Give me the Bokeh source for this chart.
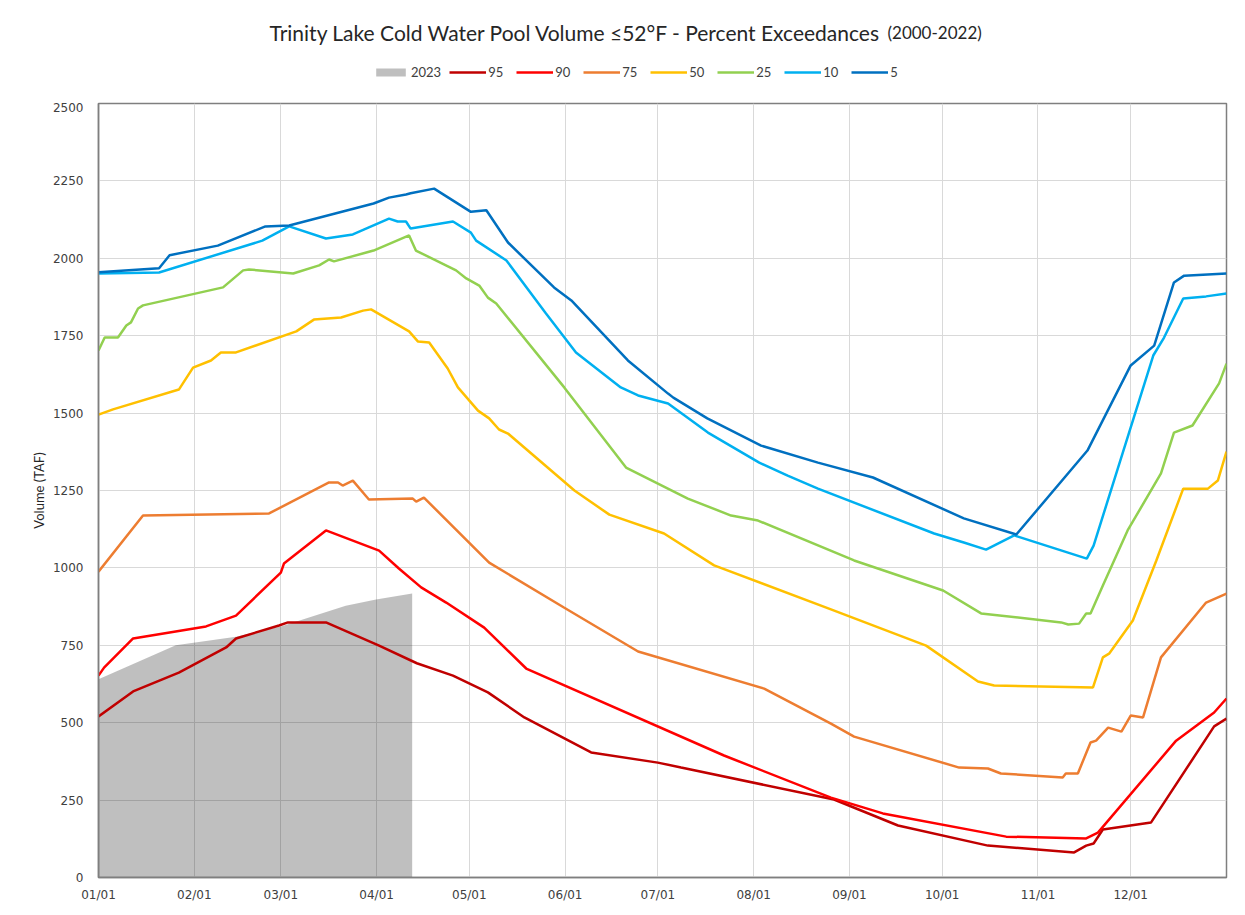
from bokeh.plotting import figure
from bokeh.models import FixedTicker, Legend, LegendItem, Label
from bokeh.layouts import column
from bokeh.embed import file_html
from bokeh.resources import INLINE

# ---- data (x = day of year, 0 = Jan 1) ----
month_ticks = [0, 31, 59, 90, 120, 151, 181, 212, 243, 273, 304, 334]
month_labels = ["01/01", "02/01", "03/01", "04/01", "05/01", "06/01",
                "07/01", "08/01", "09/01", "10/01", "11/01", "12/01"]
y_ticks = [0, 250, 500, 750, 1000, 1250, 1500, 1750, 2000, 2250, 2500]

title_main = "Trinity Lake Cold Water Pool Volume \u226452\u00b0F - Percent Exceedances"
title_sub = "(2000-2022)"

y2023_x = [0, 25, 44.5, 59, 80, 89.8, 101.5]
y2023_v = [640, 750, 778, 811, 878, 898, 917]

p95_x = [0, 11.2, 26, 41.3, 44.5, 58.4, 61.3, 73.6, 90.8, 103, 114.7, 126, 137.8, 159.4,
         181, 188.5, 238, 258.7, 287.8, 315.7, 319.6, 322, 325, 340.6, 361, 365]
p95_v = [520, 601, 662, 743, 772, 814, 824, 824, 749, 692, 652, 598, 517, 404,
         371, 355, 252, 168, 103, 81, 103, 110, 155, 178, 488, 513]

p90_x = [0, 1.8, 11.2, 34.8, 44.5, 59, 60, 73.6, 90.8, 97.2, 104.4, 112.5, 124.8, 138.4,
         202.4, 237, 253.8, 293.7, 319.6, 323.4, 348.7, 361, 365]
p90_v = [652, 678, 772, 811, 846, 985, 1014, 1121, 1056, 998, 937, 888, 807, 675,
         394, 258, 207, 132, 126, 145, 442, 533, 578]

p75_x = [0, 14.4, 55.2, 74.6, 77.5, 79, 82.3, 87.5, 101.7, 102.8, 105.3, 126.4, 150.6, 174.6,
         215.4, 237, 244.5, 278.5, 287.8, 292, 312, 313, 316.9, 321, 322.8, 326.7, 331, 334,
         338, 343.8, 358.4, 365]
p75_v = [988, 1169, 1176, 1276, 1276, 1266, 1282, 1221, 1224, 1214, 1227, 1017, 872, 730,
         610, 497, 455, 355, 352, 336, 323, 336, 336, 436, 442, 484, 471, 523,
         517, 711, 888, 917]

p50_x = [0, 4.7, 26, 30.6, 36.4, 39.6, 44.5, 64, 69.7, 78.5, 85.6, 88.2, 100.5, 103.4, 107,
         113, 116.3, 122.8, 126.4, 129.6, 132.5, 154, 165.3, 183, 199.2, 237, 267.8, 284.6,
         289.8, 321.8, 325, 327, 334.7, 342.3, 351, 359, 362.2, 365]
p50_v = [1495, 1512, 1576, 1647, 1670, 1696, 1696, 1764, 1802, 1809, 1831, 1835, 1764, 1731, 1728,
         1644, 1583, 1508, 1483, 1447, 1434, 1250, 1172, 1111, 1008, 866, 749, 633,
         620, 614, 711, 723, 830, 1024, 1256, 1256, 1282, 1376]

p25_x = [0, 2, 6.3, 9, 10.5, 12.8, 14.4, 40.3, 46.8, 48.7, 63, 71.4, 74.6, 76.2, 89, 100.5,
         102.7, 115.7, 119, 123.2, 126, 128.7, 150.7, 170.7, 190.7, 204.7, 213.4, 244.5, 273.3,
         285.6, 311.5, 313.8, 317.3, 319.6, 321, 325, 333, 343.8, 348, 354, 362.6, 365]
p25_v = [1702, 1744, 1744, 1783, 1793, 1838, 1848, 1906, 1961, 1964, 1951, 1977, 1996, 1990, 2025, 2074,
         2025, 1961, 1935, 1912, 1873, 1854, 1583, 1324, 1224, 1169, 1153, 1024, 927,
         853, 824, 817, 820, 853, 853, 943, 1121, 1305, 1437, 1460, 1596, 1660]

p10_x = [0, 19.6, 53, 61.7, 73.6, 82.3, 94, 96.8, 99.5, 101, 114.7, 120.5, 122.2, 132, 144.8,
         154.5, 169, 174.6, 184.3, 197.2, 213.8, 223, 232.8, 270.4, 280, 287.2, 296.3, 319.8,
         322, 341.3, 344.8, 351, 358.4, 365]
p10_v = [1951, 1954, 2057, 2103, 2064, 2077, 2128, 2119, 2119, 2096, 2119, 2083, 2057, 1993, 1822,
         1696, 1583, 1557, 1531, 1437, 1340, 1298, 1256, 1111, 1082, 1059, 1105, 1030,
         1072, 1686, 1744, 1870, 1877, 1886]

p5_x = [0, 19.6, 23, 38.6, 54, 61.7, 89, 94, 99.5, 101, 108.6, 120.5, 125.5, 132.5, 147.4, 153,
        171.3, 184.3, 186, 197, 214.4, 232.8, 250.6, 280, 297, 320, 334, 341.6, 348, 351.3, 365]
p5_v = [1955, 1968, 2010, 2041, 2103, 2106, 2177, 2196, 2206, 2210, 2225, 2150, 2155, 2051, 1906, 1864,
        1670, 1563, 1550, 1483, 1395, 1340, 1292, 1160, 1108, 1379, 1654, 1718, 1922, 1944, 1951]

series = [
    ("95", p95_x, p95_v, "#C00000"),
    ("90", p90_x, p90_v, "#FF0000"),
    ("75", p75_x, p75_v, "#ED7D31"),
    ("50", p50_x, p50_v, "#FFC000"),
    ("25", p25_x, p25_v, "#92D050"),
    ("10", p10_x, p10_v, "#00B0F0"),
    ("5", p5_x, p5_v, "#0070C0"),
]

FONT = "Lato"
TICKFONT = "DejaVu Sans"
W = 1243
HEAD_H = 102
LEFT, RIGHT = 98, 17            # borders around the plotting frame
FX0, FX1 = LEFT, W - RIGHT      # header coordinates = page pixels

# ---------- header: title + legend ----------
head = figure(width=W, height=HEAD_H, x_range=(FX0, FX1), y_range=(0, HEAD_H),
              output_backend="svg", toolbar_location=None,
              min_border_left=LEFT, min_border_right=RIGHT,
              min_border_top=0, min_border_bottom=0)
head.axis.visible = False
head.grid.visible = False
head.outline_line_color = None
head.background_fill_color = "white"
head.border_fill_color = "white"

head.add_layout(Label(x=881, y=HEAD_H - 32, text=title_main, text_align="right",
                      text_baseline="alphabetic", text_font=FONT, text_font_size="21px",
                      text_color="#262626"))
head.add_layout(Label(x=887, y=HEAD_H - 32, text=title_sub, text_align="left",
                      text_baseline="alphabetic", text_font=FONT, text_font_size="17px",
                      text_color="#262626"))

# legend proxies: renderers whose data lie outside the header view (only their legend swatch shows)
h_items = []
h_area = head.varea(x=[0, 1], y1=[-60, -60], y2=[-50, -50], fill_color="#000000", fill_alpha=0.25)
h_items.append(LegendItem(label="2023", renderers=[h_area]))
for name, xs, vs, col in series:
    r = head.line(x=[0, 1], y=[-60, -60], line_color=col, line_width=2.5)
    h_items.append(LegendItem(label=name, renderers=[r]))

legend = Legend(items=h_items, orientation="horizontal", location=(372 - LEFT, HEAD_H - 80),
                glyph_width=37, glyph_height=10, label_standoff=2, spacing=8,
                label_text_font=FONT, label_text_font_size="13px", label_text_color="#404040",
                border_line_color=None, background_fill_alpha=0, padding=0, margin=0)
head.add_layout(legend, "center")

# ---------- main chart ----------
p = figure(width=W, height=910 - HEAD_H, x_range=(0, 365), y_range=(0, 2500),
           output_backend="svg", toolbar_location=None,
           min_border_left=LEFT, min_border_right=RIGHT, min_border_top=1, min_border_bottom=33)

p.varea(x=y2023_x, y1=[0] * len(y2023_x), y2=y2023_v, fill_color="#000000", fill_alpha=0.25)
for name, xs, vs, col in series:
    p.line(xs, vs, line_color=col, line_width=2.5)

p.xaxis.ticker = FixedTicker(ticks=month_ticks)
p.xaxis.major_label_overrides = {t: l for t, l in zip(month_ticks, month_labels)}
p.yaxis.ticker = FixedTicker(ticks=y_ticks)
p.xgrid.ticker = FixedTicker(ticks=month_ticks)
p.ygrid.ticker = FixedTicker(ticks=y_ticks)

for ax in (p.xaxis[0], p.yaxis[0]):
    ax.major_tick_line_color = None
    ax.minor_tick_line_color = None
    ax.axis_line_color = "#7F7F7F"
    ax.axis_line_width = 1.5
    ax.major_label_text_font = TICKFONT
    ax.major_label_text_font_size = "12px"
    ax.major_label_text_color = "#404040"

p.xaxis.major_label_standoff = 4
p.yaxis.major_label_standoff = 9
p.yaxis.axis_label = "Volume (TAF)"
p.yaxis.axis_label_text_font = FONT
p.yaxis.axis_label_text_font_size = "13px"
p.yaxis.axis_label_text_font_style = "normal"
p.yaxis.axis_label_text_color = "#262626"
p.yaxis.axis_label_standoff = 3

p.xgrid.grid_line_color = "#D9D9D9"
p.ygrid.grid_line_color = "#D9D9D9"
p.outline_line_color = "#7F7F7F"
p.outline_line_width = 1.5
p.background_fill_color = "white"
p.border_fill_color = "white"

layout = column(head, p, spacing=0)
open("out.html", "w").write(file_html(layout, INLINE))
